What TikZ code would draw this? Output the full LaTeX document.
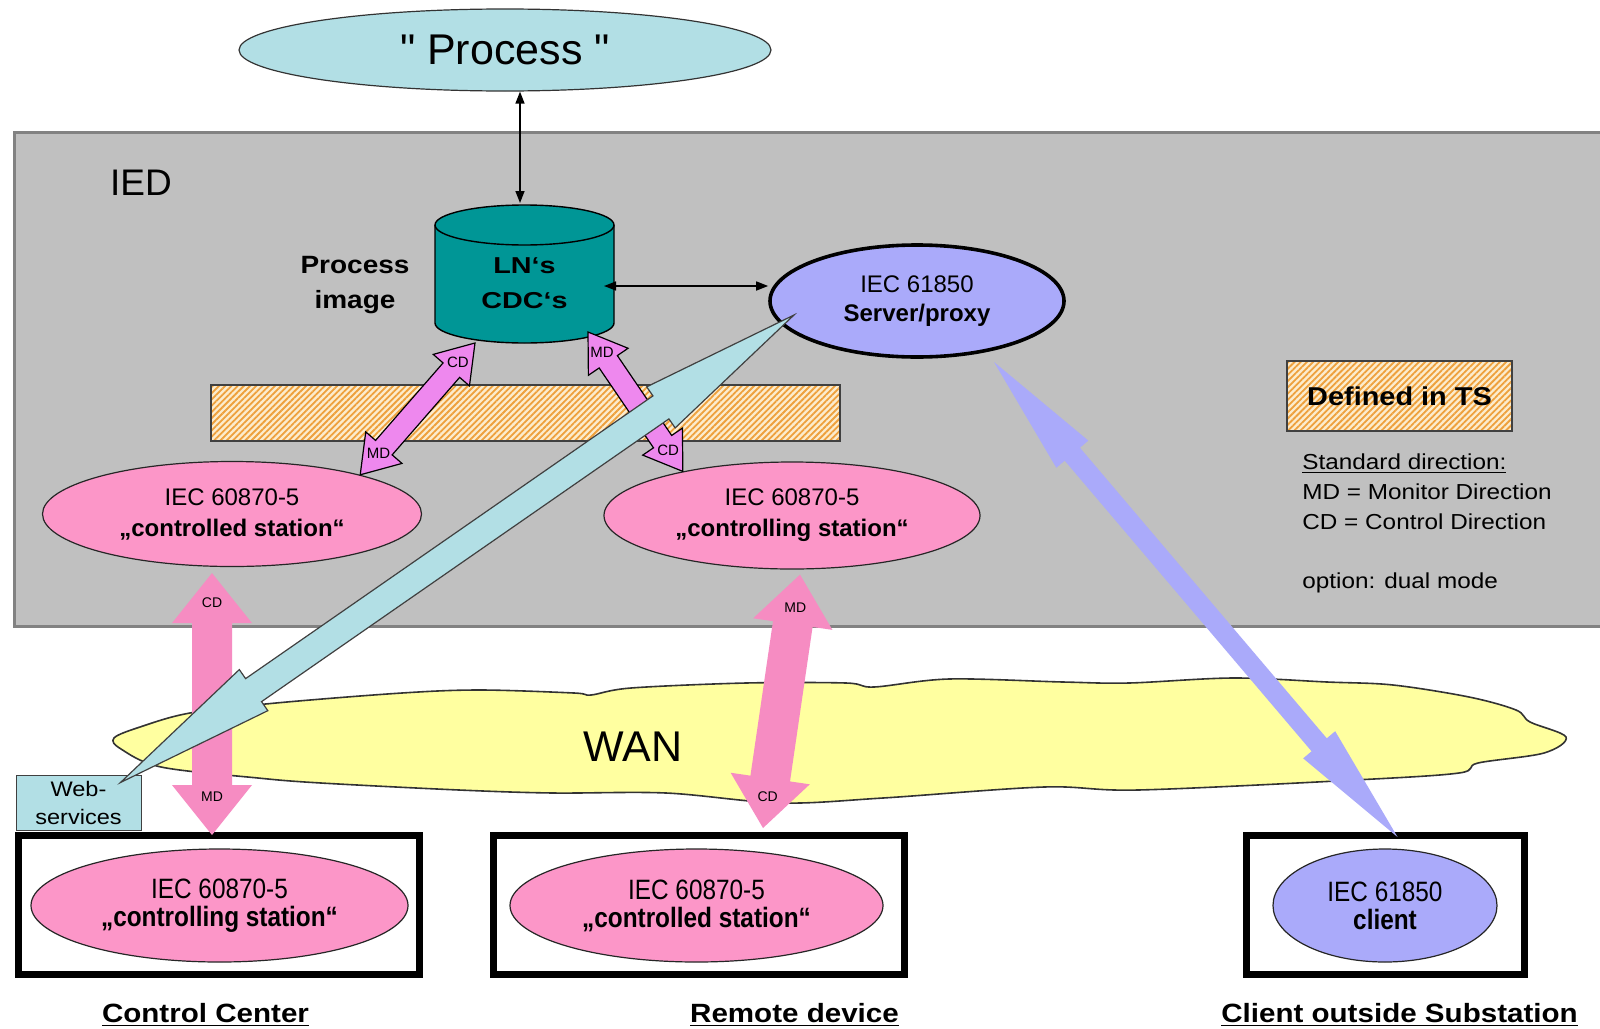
\documentclass[tikz,border=0pt]{standalone}
\usepackage{fontspec}
\setmainfont{Liberation Sans}
\newfontfamily\plainquotes{Liberation Sans}
\newfontfamily\condfont[FakeStretch=0.87]{Liberation Sans}
\newfontfamily\widefont[FakeStretch=1.12]{Liberation Sans}
\newfontfamily\xwidefont[FakeStretch=1.25]{Liberation Sans}
\usetikzlibrary{shapes.geometric,arrows.meta,calc,patterns.meta}

\definecolor{iedgray}{RGB}{192,192,192}
\definecolor{iedborder}{RGB}{130,130,130}
\definecolor{procblue}{RGB}{178,223,229}
\definecolor{dbteal}{RGB}{0,150,150}
\definecolor{lav}{RGB}{170,170,250}
\definecolor{stpink}{RGB}{252,150,200}
\definecolor{arrpink}{RGB}{246,140,194}
\definecolor{violetarr}{RGB}{238,136,238}
\definecolor{wanyellow}{RGB}{255,255,160}
\definecolor{hatchbg}{RGB}{252,236,205}
\definecolor{hatchor}{RGB}{238,160,60}

% Wide double-headed block arrow between two points.
% #1 style, #2 one tip, #3 other tip, #4 half shaft width,
% #5 head length, #6 half head width
\newcommand\dblarrow[6]{%
  \path[#1] let \p1=(#2), \p2=(#3), \p3=($(\p2)-(\p1)$),
      \n1={atan2(\y3,\x3)} in
    (\p1) -- ($(\p1)+(\n1:#5)+({\n1+90}:#6)$)
          -- ($(\p1)+(\n1:#5)+({\n1+90}:#4)$)
          -- ($(\p2)+(\n1:-#5)+({\n1+90}:#4)$)
          -- ($(\p2)+(\n1:-#5)+({\n1+90}:#6)$)
          -- (\p2)
          -- ($(\p2)+(\n1:-#5)+({\n1-90}:#6)$)
          -- ($(\p2)+(\n1:-#5)+({\n1-90}:#4)$)
          -- ($(\p1)+(\n1:#5)+({\n1-90}:#4)$)
          -- ($(\p1)+(\n1:#5)+({\n1-90}:#6)$)
          -- cycle;}

\begin{document}
\begin{tikzpicture}[x=0.5pt,y=-0.5pt,
  thinarr/.style={line width=0.75pt,
    {Triangle[length=6pt,width=4.5pt]}-{Triangle[length=6pt,width=4.5pt]}},
  hatchbox/.style={draw=black!75, line width=0.6pt,
    preaction={fill=hatchbg},
    pattern={Lines[angle=45,distance=2.2pt,line width=0.9pt]},
    pattern color=hatchor, inner sep=0pt},
  stationell/.style={ellipse, draw=black!85, line width=0.6pt, fill=stpink,
    inner sep=0pt, align=center},
  framebox/.style={draw=black, line width=3.5pt, fill=white, inner sep=0pt},
  caption/.style={anchor=base, inner sep=0pt,
    font=\widefont\bfseries\fontsize{13.2}{16}\selectfont},
  legendline/.style={anchor=base west, inner sep=0pt,
    font=\widefont\fontsize{10.85}{13}\selectfont},
  pinkarr/.style={fill=arrpink},
  violetarrow/.style={fill=violetarr, draw=black, line width=0.6pt},
  bluearr/.style={fill=procblue, draw=black!75, line width=0.6pt},
  lavarr/.style={fill=lav},
  plbl/.style={inner sep=0pt, font=\fontsize{7}{8}\selectfont},
  vlbl/.style={inner sep=0pt, font=\fontsize{7.5}{8}\selectfont}]

\useasboundingbox (0,0) rectangle (1600,1028);
\fill[white] (0,0) rectangle (1600,1028);

% IED housing
\fill[iedgray] (14,132) rectangle (1620,626);
\draw[iedborder, line width=1.5pt] (1620,132) -- (14,132) -- (14,626) -- (1620,626);
\node[inner sep=0pt, font=\fontsize{18.5}{22}\selectfont] (iedlbl) at (141,182.5) {IED};

% the process itself
\node[ellipse, draw=black!80, line width=0.6pt, fill=procblue, inner sep=0pt,
  minimum width=266pt, minimum height=41pt,
  font=\plainquotes\fontsize{21.5}{24}\selectfont] (proc) at (505,50) {" Process "};

% process image database
\path[fill=dbteal, draw=black, line width=0.7pt]
  (435,225) -- (435,323)
  arc[start angle=180, end angle=360, x radius=44.75pt, y radius=10pt]
  -- (614,225)
  arc[start angle=0, end angle=180, x radius=44.75pt, y radius=10pt] -- cycle;
\draw[line width=0.7pt] (435,225)
  arc[start angle=180, end angle=360, x radius=44.75pt, y radius=10pt];
\node[align=center, inner sep=0pt,
  font=\xwidefont\bfseries\fontsize{11.5}{17.5}\selectfont] (cyl) at (524.5,283)
  {LN‘s\\CDC‘s};
\node[align=center, inner sep=0pt,
  font=\widefont\bfseries\fontsize{12.5}{17.5}\selectfont] (pimg) at (355,285)
  {Process\\image};
\coordinate (cyltop) at (520,203);
\coordinate (cylside) at (604,286);
\coordinate (vAtop) at (475,343);
\coordinate (vBtop) at (588,332);

% server / proxy
\node[ellipse, draw=black, line width=1.8pt, fill=lav, inner sep=0pt,
  minimum width=147pt, minimum height=56pt, align=center,
  font=\fontsize{12}{14.5}\selectfont] (server) at (917,301)
  {IEC 61850\\{\bfseries Server/proxy}};

\draw[thinarr] (proc.south -| cyltop) -- (cyltop);
\draw[thinarr] (cylside) -- (server.west |- cylside);

% part defined in the TS
\node[hatchbox, minimum width=314.5pt, minimum height=28pt] (tsbar) at (525.5,413) {};
\node[hatchbox, minimum width=112.5pt, minimum height=35pt,
  font=\widefont\bfseries\fontsize{12.9}{15}\selectfont] (tsbox) at (1399.5,396)
  {Defined in TS};

% legend
\node[legendline] (lg1) at (1302,469) {\underline{Standard direction:}};
\node[legendline] (lg2) at (1302,499.5) {MD = Monitor Direction};
\node[legendline] (lg3) at (1302,529) {CD = Control Direction};
\node[legendline] (lg4) at (1302,588) {option: dual mode};

% IEC 60870-5 stations inside the IED
\node[stationell, minimum width=189.5pt, minimum height=52.5pt,
  font=\fontsize{12}{15.5}\selectfont] (cdA) at (232,514)
  {IEC 60870-5\\{\bfseries „controlled station“}};
\node[stationell, minimum width=188pt, minimum height=53.5pt,
  font=\fontsize{12}{15.5}\selectfont] (csB) at (792,515.5)
  {IEC 60870-5\\{\bfseries „controlling station“}};

% monitor / control direction inside the IED
\dblarrow{violetarrow}{vAtop}{cdA.17}{5.5pt}{18pt}{12pt}
\dblarrow{violetarrow}{vBtop}{csB.158}{5.5pt}{18pt}{12pt}
\node[vlbl] (vlA1) at ($(vAtop)!13pt!(cdA.17)$) {CD};
\node[vlbl] (vlA2) at ($(cdA.17)!14pt!(vAtop)$) {MD};
\node[vlbl] (vlB1) at ($(vBtop)!12.5pt!(csB.158)$) {MD};
\node[vlbl] (vlB2) at ($(csB.158)!13pt!(vBtop)$) {CD};

% wide area network
\draw[fill=wanyellow, draw=black!80, line width=0.8pt]
  plot[smooth cycle, tension=0.55] coordinates {
  (114,738) (140,727) (190,713) (276,703) (402,693) (480,690) (574,693)
  (591,695) (631,688) (746,683) (846,683) (874,687) (949,679) (1063,682)
  (1129,683) (1233,678) (1327,682) (1393,685) (1469,697) (1516,710)
  (1530,722) (1566,737) (1544,753) (1478,763) (1459,773) (1355,780)
  (1138,790) (1044,787) (883,798) (780,803) (666,793) (553,793) (459,790)
  (321,783) (258,778) (161,767) (121,749)};
\node[inner sep=0pt, font=\fontsize{21.5}{24}\selectfont] (wan) at (633,747) {WAN};

% remote sites
\node[framebox, minimum width=200.5pt, minimum height=69.5pt] (boxCC) at (219,905) {};
\node[framebox, minimum width=205.5pt, minimum height=69.5pt] (boxRD) at (699,905) {};
\node[framebox, minimum width=139pt, minimum height=69.5pt] (boxCL) at (1385.5,905) {};
\node[stationell, minimum width=188.5pt, minimum height=56.5pt,
  font=\condfont\fontsize{14}{14}\selectfont] (ccEll) at (219.5,905.5)
  {IEC 60870-5\\{\bfseries „controlling station“}};
\node[stationell, minimum width=186.5pt, minimum height=56.5pt,
  font=\condfont\fontsize{14}{14}\selectfont] (rdEll) at (696.5,905.5)
  {IEC 60870-5\\{\bfseries „controlled station“}};
\node[stationell, fill=lav, minimum width=112pt, minimum height=56.5pt,
  font=\condfont\fontsize{14}{14}\selectfont] (clEll) at (1385,905.5)
  {IEC 61850\\{\bfseries client}};
\node[caption] (capCC) at (205.5,1022) {\underline{Control Center}};
\node[caption] (capRD) at (794.5,1022) {\underline{Remote device}};
\node[caption] (capCL) at (1399.5,1022) {\underline{Client outside Substation}};

% web services access
\node[draw=black!75, line width=0.5pt, fill=procblue, inner sep=0pt,
  minimum width=62.5pt, minimum height=27.5pt, align=center,
  font=\widefont\fontsize{10.5}{14}\selectfont] (web) at (78.5,802.5)
  {Web-\\services};

% arrow end points
\coordinate (pkAtop) at ($(cdA.south)+(-20,6)$);
\coordinate (pkAbot) at ($(boxCC.north)+(-7,3)$);
\coordinate (pkBtop) at ($(csB.south)+(8,5)$);
\coordinate (pkBbot) at ($(boxRD.north)+(64,-4)$);
\coordinate (wsTip) at ($(web.north east)+(-21,8)$);
\coordinate (svTip) at ($(server.center)+(-123,14)$);
\coordinate (lvTop) at ($(server.center)+(77,61)$);
\coordinate (lvBot) at ($(boxCL.north)+(12,5)$);

% links over the WAN
\dblarrow{pinkarr}{pkAtop}{pkAbot}{10pt}{25pt}{20pt}
\dblarrow{pinkarr}{pkBtop}{pkBbot}{10pt}{25pt}{20pt}
\node[plbl] (plA1) at ($(pkAtop)!15pt!(pkAbot)$) {CD};
\node[plbl] (plA2) at ($(pkAbot)!19pt!(pkAtop)$) {MD};
\node[plbl] (plB1) at ($(pkBtop)!16.5pt!(pkBbot)$) {MD};
\node[plbl] (plB2) at ($(pkBbot)!16pt!(pkBtop)$) {CD};

\dblarrow{bluearr}{wsTip}{svTip}{7pt}{81pt}{12.5pt}
\dblarrow{lavarr}{lvTop}{lvBot}{5pt}{60.5pt}{10.5pt}

\end{tikzpicture}
\end{document}
